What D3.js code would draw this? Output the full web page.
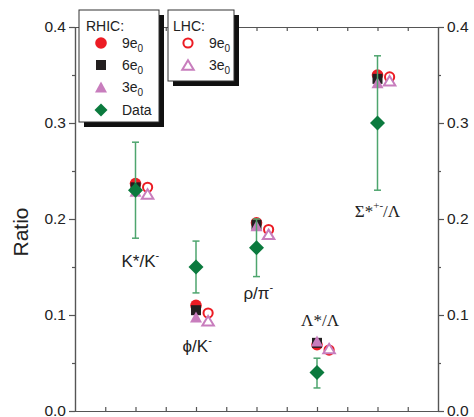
<!DOCTYPE html>
<html><head><meta charset="utf-8">
<script src="https://cdn.jsdelivr.net/npm/d3@7/dist/d3.min.js"></script>
<style>body{margin:0;background:#fff}svg{display:block}</style>
</head><body><svg id="c" width="474" height="417"></svg>
<script>
const categories = ["K*/K-", "phi/K-", "rho/pi-", "Lambda*/Lambda", "Sigma*+-/Lambda"];
const rhic9 = [0.237, 0.110, 0.196, 0.069, 0.350];
const rhic6 = [0.233, 0.105, 0.194, 0.071, 0.346];
const rhic3 = [0.229, 0.098, 0.193, 0.073, 0.342];
const lhc9 = [0.233, 0.102, 0.189, 0.0635, 0.348];
const lhc3 = [0.226, 0.094, 0.184, 0.065, 0.344];
const dataVals = [0.230, 0.150, 0.170, 0.040, 0.300];
const errHigh = [0.280, 0.177, 0.200, 0.055, 0.370];
const errLow = [0.180, 0.123, 0.140, 0.024, 0.230];
const yTicks = [0.0, 0.1, 0.2, 0.3, 0.4];
const yMinor = [0.05, 0.15, 0.25, 0.35];
const xTicks = [0.5, 1, 1.5, 2, 2.5, 3, 3.5, 4, 4.5, 5, 5.5];

const svg = d3.select("#c");
const L = 75, R = 438, T = 27, B = 411;
const x = d3.scaleLinear().domain([0, 6]).range([L, R]);
const y = d3.scaleLinear().domain([0, 0.4]).range([B, T]);
const lhcOff = 0.2;

const RED = "#ec1c24", BLACK = "#231f20", PINK = "#c87dbd", GREEN = "#0b7a3e", EGREEN = "#4ea56e", AX = "#555";
const FONT = "'Liberation Sans', Arial, sans-serif";
const SERIF = "'Liberation Serif', 'Times New Roman', serif";

function styleAxis(g) {
  g.select(".domain").attr("stroke", AX).attr("stroke-width", 1.2);
  g.selectAll(".tick line").attr("stroke", AX).attr("stroke-width", 1.2);
  g.selectAll("text").attr("font-family", FONT).attr("font-size", 15.5).attr("fill", "#222");
}
svg.append("g").attr("transform", `translate(${L},0)`)
  .call(d3.axisLeft(y).tickValues(yTicks).tickFormat(d3.format(".1f")).tickSize(6).tickPadding(3)).call(styleAxis);
svg.append("g").attr("transform", `translate(${L},0)`)
  .call(d3.axisLeft(y).tickValues(yMinor).tickFormat("").tickSize(3)).call(styleAxis);
svg.append("g").attr("transform", `translate(${R},0)`)
  .call(d3.axisRight(y).tickValues(yTicks).tickFormat(d3.format(".1f")).tickSize(6).tickPadding(3)).call(styleAxis);
svg.append("g").attr("transform", `translate(${R},0)`)
  .call(d3.axisRight(y).tickValues(yMinor).tickFormat("").tickSize(3)).call(styleAxis);
svg.append("g").attr("transform", `translate(0,${B})`)
  .call(d3.axisBottom(x).tickValues(xTicks).tickFormat("").tickSizeInner(-4).tickSizeOuter(0)).call(styleAxis);
svg.append("g").attr("transform", `translate(0,${T})`)
  .call(d3.axisTop(x).tickValues(xTicks).tickFormat("").tickSizeInner(-4).tickSizeOuter(0)).call(styleAxis);

svg.append("text").attr("transform", `translate(28,232) rotate(-90)`)
  .attr("text-anchor", "middle").attr("font-family", FONT).attr("font-size", 21).attr("fill", "#222").text("Ratio");

function circle(g, cx, cy, filled) {
  const c = g.append("circle").attr("cx", cx).attr("cy", cy);
  if (filled) c.attr("r", 5.8).attr("fill", RED);
  else c.attr("r", 4.6).attr("fill", "#fff").attr("stroke", RED).attr("stroke-width", 2);
}
function square(g, cx, cy) {
  g.append("rect").attr("x", cx - 5).attr("y", cy - 5).attr("width", 10).attr("height", 10).attr("fill", BLACK);
}
function tri(g, cx, cy, filled) {
  const w = filled ? 12 : 11.5, h = filled ? 11 : 9.5;
  const p = `M${cx},${cy - h / 2}L${cx + w / 2},${cy + h / 2}L${cx - w / 2},${cy + h / 2}Z`;
  const t = g.append("path").attr("d", p);
  if (filled) t.attr("fill", PINK);
  else t.attr("fill", "#fff").attr("stroke", PINK).attr("stroke-width", 2);
}
function diamond(g, cx, cy, s) {
  g.append("path").attr("d", `M${cx},${cy - s}L${cx + s},${cy}L${cx},${cy + s}L${cx - s},${cy}Z`).attr("fill", GREEN);
}

const gm = svg.append("g");
categories.forEach((c, i) => {
  const xi = i + 1;
  circle(gm, x(xi + lhcOff), y(lhc9[i]), false);
  tri(gm, x(xi + lhcOff), y(lhc3[i]), false);
  circle(gm, x(xi), y(rhic9[i]), true);
  square(gm, x(xi), y(rhic6[i]));
  tri(gm, x(xi), y(rhic3[i]), true);
});
categories.forEach((c, i) => {
  const xi = i + 1, cx = x(xi);
  gm.append("line").attr("x1", cx).attr("x2", cx).attr("y1", y(errLow[i])).attr("y2", y(errHigh[i]))
    .attr("stroke", EGREEN).attr("stroke-width", 1.5);
  [errLow[i], errHigh[i]].forEach(v => gm.append("line").attr("x1", cx - 3.5).attr("x2", cx + 3.5)
    .attr("y1", y(v)).attr("y2", y(v)).attr("stroke", EGREEN).attr("stroke-width", 1.5));
  diamond(gm, cx, y(dataVals[i]), 7.5);
});

// Category labels
const labelPos = [
  { xi: 1.08, v: 0.150 },
  { xi: 2.02, v: 0.061 },
  { xi: 3.03, v: 0.117 },
  { xi: 4.05, v: 0.089 },
  { xi: 5.0, v: 0.202 }
];
const labelParts = [
  [["K*/K", FONT], ["-", FONT, "sup"]],
  [["\u03D5", FONT], ["/K", FONT], ["-", FONT, "sup"]],
  [["\u03C1/\u03C0", FONT], ["-", FONT, "sup"]],
  [["\u039B*/\u039B", SERIF]],
  [["\u03A3*", SERIF], ["+-", SERIF, "sup"], ["/\u039B", SERIF]]
];
labelParts.forEach((parts, i) => {
  const t = svg.append("text").attr("x", x(labelPos[i].xi)).attr("y", y(labelPos[i].v))
    .attr("text-anchor", "middle").attr("font-size", 17).attr("fill", "#222");
  parts.forEach((p, k) => {
    const s = t.append("tspan").attr("font-family", p[1]).text(p[0]);
    if (p[2] === "sup") s.attr("font-size", 11).attr("dy", -8);
    else if (k > 0 && parts[k - 1][2] === "sup") s.attr("dy", 8);
  });
});

// Legends
function legendBox(x0, y0, w, h) {
  svg.append("rect").attr("x", x0 + 5).attr("y", y0 + 5).attr("width", w).attr("height", h).attr("fill", "#111");
  svg.append("rect").attr("x", x0).attr("y", y0).attr("width", w).attr("height", h)
    .attr("fill", "#fff").attr("stroke", "#333").attr("stroke-width", 1);
}
function subLabel(x0, yb, main) {
  const t = svg.append("text").attr("x", x0).attr("y", yb).attr("font-family", FONT).attr("font-size", 14).attr("fill", "#222");
  t.append("tspan").text(main);
  t.append("tspan").attr("font-size", 10).attr("dy", 4).text("0");
}
legendBox(79, 10, 80, 112);
svg.append("text").attr("x", 86).attr("y", 31).attr("font-family", FONT).attr("font-size", 14).attr("fill", "#222").text("RHIC:");
circle(svg, 101, 43, true); subLabel(122, 48, "9e");
square(svg, 101, 65); subLabel(122, 70, "6e");
tri(svg, 101, 87, true); subLabel(122, 92, "3e");
diamond(svg, 101, 110, 6.5);
svg.append("text").attr("x", 122).attr("y", 115).attr("font-family", FONT).attr("font-size", 14).attr("fill", "#222").text("Data");

legendBox(168, 10, 66, 71);
svg.append("text").attr("x", 173).attr("y", 31).attr("font-family", FONT).attr("font-size", 14).attr("fill", "#222").text("LHC:");
circle(svg, 188, 43, false); subLabel(209, 48, "9e");
tri(svg, 188, 65, false); subLabel(209, 70, "3e");
</script></body></html>
